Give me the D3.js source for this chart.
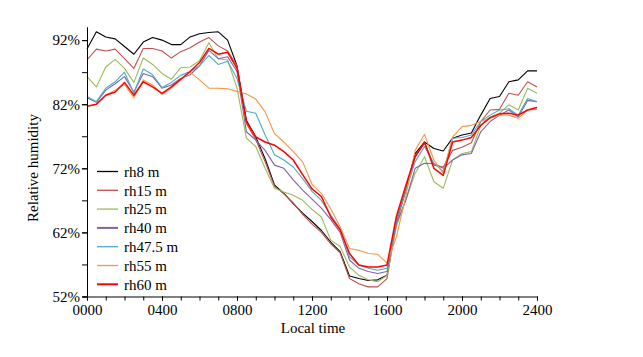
<!DOCTYPE html>
<html>
<head>
<meta charset="utf-8">
<script src="https://cdn.jsdelivr.net/npm/d3@7"></script>
<style>
  html, body { margin: 0; padding: 0; background: #fff; }
  svg { display: block; }
  text { font-family: "Liberation Serif", "Times New Roman", serif; fill: #000; }
</style>
</head>
<body>
<svg id="chart" width="643" height="357"></svg>
<script>
// ---- data (half-hourly, local time in hours) ----
const times = [0,0.5,1,1.5,2,2.5,3,3.5,4,4.5,5,5.5,6,6.5,7,7.5,8,8.5,9,9.5,10,10.5,11,11.5,12,12.5,13,13.5,14,14.5,15,15.5,16,16.5,17,17.5,18,18.5,19,19.5,20,20.5,21,21.5,22,22.5,23,23.5,24];

const rh8 = [90.6,93.3,92.5,92.2,91.0,89.8,91.7,92.4,92.0,91.3,91.3,92.5,93.0,93.2,93.3,92.0,
  88.0,79.5,76.9,73.5,69.4,68.1,66.5,65.0,63.7,62.3,60.5,59.0,55.2,54.8,54.5,54.6,
  55.3,63.9,68.6,74.3,76.1,75.1,74.7,76.7,77.2,77.5,80.3,82.9,83.2,85.5,85.8,87.2,87.2];
const rh15 = [88.9,90.6,90.3,90.6,89.1,87.6,90.7,90.7,90.3,89.2,90.2,90.8,91.7,92.4,91.1,90.3,
  88.0,79.0,76.5,73.0,69.2,68.0,66.6,64.8,63.3,62.0,60.2,58.8,54.8,54.0,53.5,53.5,
  54.8,63.5,68.4,73.8,75.9,72.5,72.2,74.8,75.3,76.0,79.3,81.1,81.2,83.7,83.4,85.5,84.7];
const rh25 = [86.3,84.7,87.8,89.0,87.6,85.4,89.2,88.2,86.8,85.9,87.7,87.8,88.8,91.6,89.1,88.9,
  84.5,76.7,75.4,72.0,68.9,68.3,67.8,67.0,65.6,64.4,60.8,59.8,56.6,55.3,54.6,54.3,
  55.3,62.9,67.0,71.2,73.8,69.9,68.9,73.3,74.3,74.6,78.7,80.0,80.6,81.9,81.1,84.5,83.7];
const rh40 = [83.0,82.3,84.2,85.2,86.3,83.9,86.8,86.3,84.5,85.0,86.0,86.6,88.0,90.4,89.1,89.4,
  87.1,77.7,76.4,74.8,72.5,72.0,70.2,68.6,67.2,65.8,64.0,62.0,57.7,56.4,55.9,55.6,
  55.9,63.4,67.0,72.0,72.8,72.7,72.0,73.3,74.1,74.3,77.7,79.3,80.3,81.1,80.0,82.6,82.4];
const rh47_5 = [83.2,82.4,84.5,85.5,87.0,83.7,87.5,86.6,84.6,85.4,86.5,87.1,88.0,89.6,88.2,88.7,
  86.0,80.9,80.6,77.2,74.1,73.3,72.2,70.4,68.4,67.0,64.7,62.6,58.2,56.9,56.4,56.1,
  56.4,63.9,68.5,73.0,75.4,72.8,71.5,76.7,76.8,77.2,79.3,80.3,81.1,81.3,80.3,82.9,82.4];
const rh55 = [81.6,82.0,83.4,84.2,85.1,83.0,85.8,85.0,83.5,84.5,85.8,87.0,85.8,84.5,84.5,84.4,
  84.0,83.6,82.8,80.8,77.4,76.1,74.6,73.0,69.5,68.1,65.7,62.9,59.5,59.2,58.7,58.6,
  57.2,61.3,67.6,74.8,77.3,73.3,71.2,76.9,78.5,78.7,79.3,79.8,80.3,80.3,79.8,81.1,81.2];
const rh60 = [81.7,82.0,83.4,83.9,85.4,83.4,85.5,84.7,83.7,84.7,85.9,87.1,88.5,90.7,89.8,90.1,
  87.6,79.3,76.9,76.1,75.6,74.6,73.3,71.0,68.8,67.6,64.4,62.4,58.7,56.9,56.6,56.6,
  56.9,64.5,69.3,73.8,76.1,72.0,70.9,76.1,76.4,76.8,78.7,79.9,80.5,80.6,80.3,81.1,81.5];

const seriesNames = ["rh8 m","rh15 m","rh25 m","rh40 m","rh47.5 m","rh55 m","rh60 m"];
const seriesValues = [rh8, rh15, rh25, rh40, rh47_5, rh55, rh60];
const seriesColors = ["#000000","#c0504d","#9bbb59","#8064a2","#4bacc6","#f79646","#ff0000"];
const seriesWidths = [1.1, 1.1, 1.1, 1.1, 1.1, 1.1, 1.5];
const legendWidths = [1.3, 1.3, 1.3, 2, 1.3, 1.3, 2];

const xTickValues = [0,4,8,12,16,20,24];
const xTickLabels = ["0000","0400","0800","1200","1600","2000","2400"];
const yTickValues = [52,62,72,82,92];
const yTickLabels = ["52%","62%","72%","82%","92%"];

// ---- layout ----
const svg = d3.select("#chart");
const x = d3.scaleLinear().domain([0, 24]).range([87, 537]);
const y = d3.scaleLinear().domain([52, 94]).range([296.5, 27.3]);

// lines
const line = d3.line().x((d, i) => x(times[i])).y(d => y(d));
seriesValues.forEach((vals, k) => {
  svg.append("path")
    .datum(vals)
    .attr("d", line)
    .attr("fill", "none")
    .attr("stroke", seriesColors[k])
    .attr("stroke-width", seriesWidths[k])
    .attr("stroke-linejoin", "round");
});

// x axis
const xAxisMinor = d3.axisBottom(x).tickValues(d3.range(0, 25, 1)).tickSize(4).tickFormat("");
const gxm = svg.append("g").attr("transform", "translate(0,296.5)").call(xAxisMinor);
gxm.select(".domain").remove();
gxm.selectAll("line").attr("stroke", "#000");
const xAxis = d3.axisBottom(x).tickValues(xTickValues).tickSize(4).tickSizeOuter(0)
  .tickFormat((d, i) => xTickLabels[i]);
const gx = svg.append("g").attr("transform", "translate(0,296.5)").call(xAxis);
gx.select(".domain").attr("stroke", "#000").attr("d", "M83,0.5H537");
gx.selectAll("text").attr("font-size", 15).attr("dy", "0.71em").attr("y", 8)
  .style("font-family", '"Liberation Serif", serif');

// y axis
const yAxisMinor = d3.axisLeft(y).tickValues(d3.range(52, 93, 5)).tickSize(5).tickFormat("");
const gym = svg.append("g").attr("transform", "translate(87,0)").call(yAxisMinor);
gym.select(".domain").remove();
gym.selectAll("line").attr("stroke", "#000");
const yAxis = d3.axisLeft(y).tickValues(yTickValues).tickSize(5).tickSizeOuter(0)
  .tickFormat((d, i) => yTickLabels[i]);
const gy = svg.append("g").attr("transform", "translate(87,0)").call(yAxis);
gy.select(".domain").attr("stroke", "#000").attr("d", "M0.5,27.3V300");
gy.selectAll("text").attr("font-size", 15).attr("x", -7)
  .style("font-family", '"Liberation Serif", serif');

// axis titles
svg.append("text").attr("x", 313).attr("y", 333).attr("text-anchor", "middle")
  .attr("font-size", 15).text("Local time");
svg.append("text").attr("transform", "translate(38,168) rotate(-90)")
  .attr("text-anchor", "middle").attr("font-size", 15).text("Relative humidity");

// legend
const lg = svg.append("g");
seriesNames.forEach((name, k) => {
  const yy = 171.5 + k * 18.8;
  lg.append("line").attr("x1", 97).attr("x2", 118).attr("y1", yy).attr("y2", yy)
    .attr("stroke", seriesColors[k]).attr("stroke-width", legendWidths[k]);
  lg.append("text").attr("x", 124).attr("y", yy).attr("dy", "0.35em")
    .attr("font-size", 15).text(name);
});
</script>
</body>
</html>
